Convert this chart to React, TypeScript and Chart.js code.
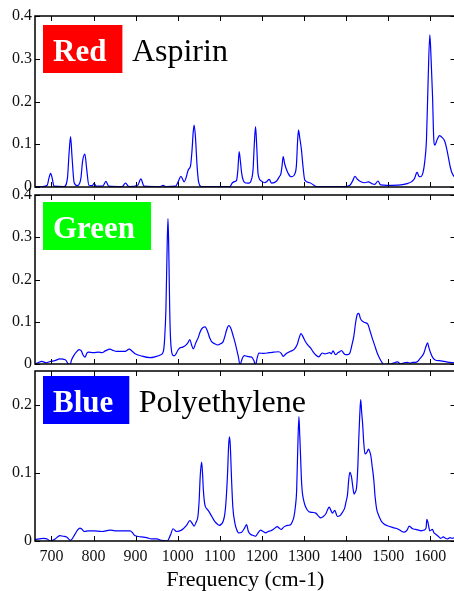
import React, { useEffect, useRef } from 'react';
import { Chart, registerables } from 'chart.js';

Chart.register(...registerables);

const FONT = "'Liberation Serif', 'Times New Roman', Times, serif";

// ---- Red: Aspirin ----
const redFreq = [661, 680, 690, 694, 698, 702, 706, 730, 738, 742, 745.5, 749, 754, 762, 770, 774, 779.5, 784, 789, 797, 801.5, 806, 822, 829.5, 836, 868, 876, 884, 905, 912.5, 920, 958, 965.5, 972, 995, 1001, 1007.5, 1015.5, 1020, 1025, 1030.6, 1034, 1037, 1039, 1042, 1046, 1050, 1056, 1124, 1130, 1136, 1140, 1143, 1146, 1149, 1152, 1156, 1160, 1166, 1171.5, 1176, 1179, 1182, 1185, 1188, 1191, 1199, 1207, 1212, 1217.5, 1223, 1235, 1242, 1245, 1248, 1250.6, 1254, 1257, 1262, 1267, 1272, 1278, 1282, 1285, 1287, 1290, 1294, 1298, 1302, 1314, 1330, 1395, 1409, 1416, 1421, 1427, 1434, 1445, 1453, 1461, 1468, 1476, 1482, 1498, 1530, 1545, 1555, 1562.7, 1567, 1569, 1573, 1577, 1583, 1587, 1591, 1595, 1599, 1602, 1605.5, 1608, 1611, 1616, 1622, 1628, 1634, 1639, 1643, 1648, 1652, 1657, 1662];
const redVals = [0.001, 0.001, 0.004, 0.02, 0.032, 0.02, 0.002, 0.001, 0.02, 0.08, 0.118, 0.07, 0.01, 0.003, 0.02, 0.06, 0.077, 0.04, 0.004, 0.003, 0.009, 0.002, 0.002, 0.013, 0.002, 0.001, 0.009, 0.001, 0.004, 0.019, 0.002, 0.001, 0.004, 0.001, 0.002, 0.012, 0.025, 0.012, 0.022, 0.04, 0.05, 0.085, 0.13, 0.145, 0.12, 0.05, 0.01, 0.001, 0.001, 0.01, 0.013, 0.016, 0.04, 0.083, 0.06, 0.032, 0.015, 0.01, 0.009, 0.01, 0.02, 0.04, 0.1, 0.141, 0.09, 0.03, 0.014, 0.01, 0.013, 0.018, 0.009, 0.014, 0.025, 0.03, 0.05, 0.071, 0.055, 0.045, 0.033, 0.025, 0.024, 0.03, 0.05, 0.11, 0.133, 0.115, 0.087, 0.045, 0.016, 0.01, 0.001, 0.001, 0.004, 0.015, 0.025, 0.018, 0.013, 0.01, 0.012, 0.008, 0.006, 0.014, 0.005, 0.004, 0.005, 0.008, 0.012, 0.02, 0.032, 0.034, 0.025, 0.024, 0.035, 0.06, 0.11, 0.25, 0.356, 0.3, 0.211, 0.12, 0.098, 0.11, 0.12, 0.116, 0.108, 0.09, 0.07, 0.045, 0.032, 0.024, 0.02];

// ---- Green ----
const greenFreq = [661, 668, 677, 688, 697, 708, 720, 733, 740, 744, 748, 752, 759, 766, 771, 775, 779.6, 784, 787, 800, 812, 820, 828, 839, 847, 855, 875, 884.8, 892, 898, 914, 934, 946, 960, 966, 969, 972, 975, 977, 979, 981, 983, 985.5, 990, 993, 1000, 1005, 1012, 1018.8, 1024, 1029, 1033, 1037, 1043, 1049, 1053, 1057, 1061, 1065, 1071, 1076, 1080.5, 1088, 1095, 1102, 1108, 1112, 1116, 1120, 1122, 1126, 1132, 1137, 1140, 1144, 1148, 1153, 1158, 1165, 1172, 1177, 1181, 1185, 1189, 1193, 1205, 1217, 1228, 1240, 1246, 1250.6, 1255, 1260, 1268, 1276, 1284, 1288, 1293, 1297, 1303, 1309, 1315.6, 1321, 1327.5, 1335, 1343.5, 1350, 1355, 1361, 1365, 1369, 1375, 1381, 1385, 1389, 1394, 1398.6, 1404, 1409, 1414, 1418.5, 1423, 1427, 1430.4, 1434, 1438, 1445, 1451.8, 1457, 1462, 1468, 1474, 1479, 1484, 1490, 1498, 1506, 1514, 1522, 1530, 1538, 1545, 1552, 1558, 1564, 1570, 1575, 1580, 1585, 1590, 1593.6, 1597, 1601, 1606, 1613, 1622, 1633, 1645, 1657, 1662];
const greenVals = [0.0, 0.003, 0.006, 0.003, 0.006, 0.008, 0.012, 0.01, 0.0, -0.002, 0.01, 0.018, 0.028, 0.034, 0.031, 0.022, 0.016, 0.025, 0.028, 0.027, 0.028, 0.027, 0.031, 0.035, 0.032, 0.03, 0.03, 0.035, 0.03, 0.025, 0.019, 0.015, 0.017, 0.022, 0.03, 0.06, 0.129, 0.28, 0.344, 0.26, 0.13, 0.06, 0.03, 0.02, 0.02, 0.032, 0.038, 0.04, 0.044, 0.05, 0.058, 0.045, 0.036, 0.05, 0.063, 0.075, 0.083, 0.087, 0.088, 0.077, 0.062, 0.053, 0.048, 0.045, 0.048, 0.053, 0.065, 0.08, 0.09, 0.091, 0.085, 0.066, 0.048, 0.035, 0.018, -0.002, 0.012, 0.02, 0.018, 0.017, 0.015, 0.008, -0.002, 0.015, 0.026, 0.025, 0.027, 0.028, 0.029, 0.025, 0.018, 0.022, 0.026, 0.03, 0.034, 0.046, 0.06, 0.072, 0.066, 0.054, 0.045, 0.038, 0.03, 0.022, 0.017, 0.026, 0.024, 0.025, 0.027, 0.024, 0.031, 0.022, 0.027, 0.029, 0.032, 0.026, 0.022, 0.022, 0.026, 0.045, 0.066, 0.1, 0.118, 0.12, 0.108, 0.102, 0.098, 0.094, 0.078, 0.062, 0.044, 0.026, 0.015, 0.006, -0.002, 0.0, 0.0, 0.003, 0.005, 0.0, 0.003, 0.004, 0.002, 0.004, 0.004, 0.006, 0.012, 0.018, 0.026, 0.042, 0.05, 0.038, 0.026, 0.015, 0.009, 0.008, 0.006, 0.004, 0.003, 0.003];

// ---- Blue: Polyethylene ----
const blueFreq = [661, 681, 690, 697, 709, 720, 728, 736, 745.6, 756, 762, 767.7, 773, 778, 788, 800, 820, 839, 851, 871, 887, 893, 898, 914, 926, 938, 950, 962, 975, 983, 989, 997, 1009, 1021, 1029, 1034.5, 1039, 1044, 1048, 1051, 1053.5, 1056.8, 1059, 1061, 1064.6, 1070, 1076.5, 1082, 1088, 1094, 1098.6, 1104, 1108, 1112, 1115, 1118.5, 1121, 1123, 1125, 1128, 1131, 1136, 1140, 1145, 1152, 1158, 1163.6, 1168, 1173, 1180, 1185, 1191, 1197, 1203, 1209, 1215, 1221, 1229, 1236.6, 1241, 1246, 1251, 1256.5, 1262, 1268, 1272, 1276, 1279.5, 1282.6, 1285, 1288, 1290, 1292, 1294, 1296, 1300, 1304, 1312, 1320, 1328, 1334, 1340, 1346, 1352, 1356, 1360, 1364, 1367.7, 1373, 1379.6, 1385, 1389, 1397, 1400, 1403.6, 1406, 1409, 1413, 1416, 1419, 1422, 1425, 1428, 1430, 1432.5, 1434.8, 1437, 1439.5, 1442, 1445, 1449, 1453.6, 1457, 1459, 1462, 1466, 1469, 1472.7, 1476, 1480.6, 1485, 1490, 1500, 1510, 1516, 1522, 1530, 1538, 1545, 1550, 1558, 1565, 1572, 1578, 1585, 1590, 1592, 1595, 1599, 1605, 1609, 1613, 1619, 1625, 1631, 1636, 1641, 1647, 1652, 1657, 1662];
const blueVals = [0.002, 0.004, 0.003, 0.0, 0.003, 0.008, 0.007, 0.006, 0.001, 0.01, 0.016, 0.019, 0.017, 0.014, 0.015, 0.015, 0.014, 0.016, 0.015, 0.015, 0.015, 0.012, 0.008, 0.006, 0.005, 0.003, 0.003, 0.001, 0.0, 0.009, 0.018, 0.014, 0.016, 0.023, 0.03, 0.026, 0.022, 0.028, 0.036, 0.06, 0.095, 0.116, 0.1, 0.075, 0.053, 0.047, 0.041, 0.035, 0.029, 0.025, 0.023, 0.025, 0.029, 0.04, 0.06, 0.1, 0.14, 0.153, 0.14, 0.09, 0.05, 0.026, 0.017, 0.012, 0.013, 0.018, 0.024, 0.014, 0.01, 0.008, 0.007, 0.012, 0.016, 0.014, 0.012, 0.014, 0.015, 0.018, 0.021, 0.019, 0.017, 0.02, 0.022, 0.023, 0.024, 0.028, 0.035, 0.05, 0.074, 0.13, 0.183, 0.155, 0.123, 0.09, 0.072, 0.058, 0.05, 0.043, 0.042, 0.041, 0.037, 0.034, 0.036, 0.04, 0.046, 0.05, 0.045, 0.041, 0.045, 0.036, 0.037, 0.04, 0.049, 0.058, 0.069, 0.088, 0.101, 0.094, 0.08, 0.069, 0.072, 0.079, 0.11, 0.147, 0.185, 0.208, 0.19, 0.171, 0.145, 0.128, 0.13, 0.135, 0.13, 0.125, 0.11, 0.089, 0.065, 0.047, 0.04, 0.033, 0.028, 0.025, 0.022, 0.02, 0.019, 0.018, 0.015, 0.013, 0.016, 0.022, 0.018, 0.017, 0.016, 0.015, 0.016, 0.019, 0.032, 0.026, 0.015, 0.017, 0.012, 0.01, 0.007, 0.004, 0.006, 0.004, 0.003, 0.005, 0.004, 0.005, 0.005];

const xMin = 661;
const xMax = 1660;
const xTickValues = [700, 800, 900, 1000, 1100, 1200, 1300, 1400, 1500, 1600];
const xTitle = 'Frequency (cm-1)';

const framePlugin = {
  id: 'frame',
  afterDraw(chart: any, _args: any, opts: any) {
    const { ctx, chartArea: a, scales } = chart;
    const xs = scales.x;
    const ys = scales.y;
    ctx.save();
    ctx.strokeStyle = '#000';
    ctx.lineWidth = 1.5;
    ctx.strokeRect(a.left, a.top, a.right - a.left, a.bottom - a.top);
    const tl = 5;
    ctx.lineWidth = 1;
    ctx.beginPath();
    xs.ticks.forEach((t: any) => {
      const px = Math.round(xs.getPixelForValue(t.value)) + 0.5;
      ctx.moveTo(px, a.bottom);
      ctx.lineTo(px, a.bottom - tl);
      ctx.moveTo(px, a.top);
      ctx.lineTo(px, a.top + tl);
    });
    ys.ticks.forEach((t: any) => {
      const py = Math.round(ys.getPixelForValue(t.value)) + 0.5;
      ctx.moveTo(a.left, py);
      ctx.lineTo(a.left + tl, py);
      ctx.moveTo(a.right, py);
      ctx.lineTo(a.right - tl, py);
    });
    ctx.stroke();

    // panel label
    const bx = a.left + 8;
    const by = a.top + opts.boxOffset;
    ctx.font = `bold 31px ${FONT}`;
    const tw = ctx.measureText(opts.tag).width;
    const bw = tw + 10 + 16;
    const bh = 48;
    ctx.fillStyle = opts.tagColor;
    ctx.fillRect(bx, by, bw, bh);
    ctx.fillStyle = '#fff';
    ctx.textBaseline = 'alphabetic';
    ctx.textAlign = 'left';
    ctx.fillText(opts.tag, bx + 10, by + 35.5);
    if (opts.name) {
      ctx.font = `32px ${FONT}`;
      ctx.fillStyle = '#000';
      ctx.fillText(opts.name, bx + bw + 9.5, by + 35.5);
    }
    ctx.restore();
  },
};

type PanelProps = {
  top: number;
  height: number;
  padTop: number;
  xHeight: number;
  freq: number[];
  vals: number[];
  yMax: number;
  tag: string;
  tagColor: string;
  name: string;
  boxOffset: number;
  showX: boolean;
};

function Panel(p: PanelProps) {
  const ref = useRef<HTMLCanvasElement | null>(null);
  useEffect(() => {
    if (!ref.current) return;
    const data = p.freq.map((f, i) => ({ x: f, y: p.vals[i] }));
    const chart = new Chart(ref.current, {
      type: 'line',
      data: {
        datasets: [
          {
            data,
            borderColor: '#0000ff',
            borderWidth: 1.2,
            pointRadius: 0,
            fill: false,
            cubicInterpolationMode: 'monotone',
          },
        ],
      },
      plugins: [framePlugin as any],
      options: {
        responsive: false,
        animation: false,
        devicePixelRatio: 1,
        layout: { padding: { top: p.padTop, right: 4.5, left: 0, bottom: 0 } },
        plugins: {
          legend: { display: false },
          tooltip: { enabled: false },
          frame: { tag: p.tag, tagColor: p.tagColor, name: p.name, boxOffset: p.boxOffset },
        } as any,
        scales: {
          x: {
            type: 'linear',
            min: xMin,
            max: xMax,
            afterBuildTicks: (s: any) => {
              s.ticks = xTickValues.map((v) => ({ value: v }));
            },
            afterFit: (s: any) => {
              s.height = p.xHeight;
            },
            grid: { display: false, drawTicks: false },
            border: { display: false },
            ticks: {
              display: p.showX,
              autoSkip: false,
              maxRotation: 0,
              padding: 6,
              color: '#111',
              font: { family: FONT, size: 16 },
              callback: (v: any) => String(v),
            },
            title: {
              display: p.showX,
              text: xTitle,
              color: '#000',
              font: { family: FONT, size: 22, lineHeight: 1.0 },
              padding: 0,
            },
          },
          y: {
            type: 'linear',
            min: 0,
            max: p.yMax,
            afterFit: (s: any) => {
              s.width = 35;
            },
            grid: { display: false, drawTicks: false },
            border: { display: false },
            ticks: {
              stepSize: 0.1,
              includeBounds: false,
              padding: 3,
              color: '#111',
              font: { family: FONT, size: 16 },
              callback: (v: any) => (Math.abs(v) < 1e-9 ? '0' : Number(v).toFixed(1)),
            },
          },
        },
      } as any,
    });
    return () => chart.destroy();
  }, []);
  return (
    <canvas
      ref={ref}
      width={460}
      height={p.height}
      style={{ position: 'absolute', left: 0, top: p.top, width: 460, height: p.height }}
    />
  );
}

export default function App() {
  return (
    <div
      style={{
        position: 'absolute',
        left: 0,
        top: 0,
        width: 454,
        height: 591,
        overflow: 'hidden',
        background: '#fff',
      }}
    >
      <Panel top={0} height={200} padTop={16} xHeight={13} freq={redFreq} vals={redVals} yMax={0.4}
        tag="Red" tagColor="#ff0000" name="Aspirin" boxOffset={9} showX={false} />
      <Panel top={180} height={200} padTop={15} xHeight={16} freq={greenFreq} vals={greenVals} yMax={0.4}
        tag="Green" tagColor="#00ff00" name="" boxOffset={7} showX={false} />
      <Panel top={356} height={235} padTop={15} xHeight={50} freq={blueFreq} vals={blueVals} yMax={0.25}
        tag="Blue" tagColor="#0000ff" name="Polyethylene" boxOffset={5} showX={true} />
    </div>
  );
}
